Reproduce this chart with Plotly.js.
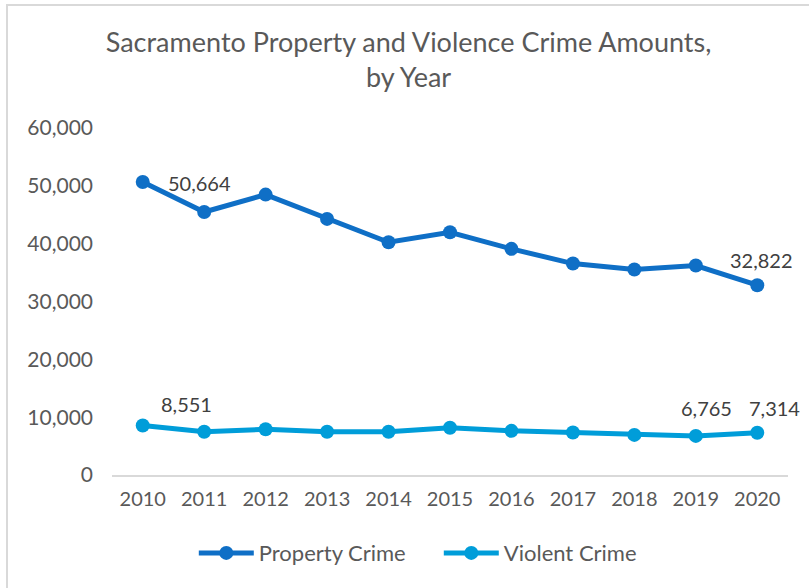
<!DOCTYPE html>
<html>
<head>
<meta charset="utf-8">
<script src="https://cdn.plot.ly/plotly-3.0.1.min.js"></script>
<style>
  html, body { margin: 0; padding: 0; overflow: hidden; background: #fff; }
  #chart { width: 809px; height: 588px; position: absolute; left: 0; top: 0; }
  #frame { position: absolute; left: 6px; top: 4px; width: 830px; height: 620px;
           border: 2px solid #d9d9d9; pointer-events: none; box-sizing: border-box; }
</style>
</head>
<body>
<div id="chart"></div>
<div id="frame"></div>
<script>
const years = ["2010","2011","2012","2013","2014","2015","2016","2017","2018","2019","2020"];
const propertyCrime = [50664, 45480, 48480, 44280, 40250, 41970, 39100, 36560, 35530, 36220, 32822];
const violentCrime = [8551, 7470, 7900, 7470, 7470, 8170, 7630, 7360, 6930, 6765, 7314];
// indices of the points that carry a data label
const propertyLabelIdx = [0, 10];
const violentLabelIdx = [0, 9, 10];

const FONT = "Lato, 'Open Sans', sans-serif";
const labelFont = {family: FONT, size: 20, color: "#404040"};

// label offsets in pixels (placement only)
const propertyLabelShift = {0: [57, -1], 10: [4, 25]};
const violentLabelShift = {0: [44, 22], 9: [11, 28], 10: [17, 25]};

const traces = [
  {
    x: years, y: propertyCrime, name: "Property Crime", type: "scatter",
    mode: "lines+markers",
    line: {color: "#0F6FC6", width: 5},
    marker: {color: "#0F6FC6", size: 14},
    cliponaxis: false
  },
  {
    x: years, y: violentCrime, name: "Violent Crime", type: "scatter",
    mode: "lines+markers",
    line: {color: "#009DD9", width: 5},
    marker: {color: "#009DD9", size: 14},
    cliponaxis: false
  }
];

function fmt(v) {
  return String(v).replace(/\B(?=(\d{3})+(?!\d))/g, ",");
}

function makeLabels(values, idxs, shifts) {
  // category axis: the annotation x is the category's index position
  return idxs.map(i => ({
    x: i, y: values[i], xref: "x", yref: "y",
    text: fmt(values[i]),
    showarrow: false, xanchor: "center", yanchor: "middle",
    xshift: shifts[i][0], yshift: shifts[i][1],
    font: labelFont
  }));
}

const annotations = makeLabels(propertyCrime, propertyLabelIdx, propertyLabelShift)
  .concat(makeLabels(violentCrime, violentLabelIdx, violentLabelShift));

const layout = {
  width: 809, height: 588,
  margin: {l: 112, r: 21, t: 128, b: 113, autoexpand: false},
  paper_bgcolor: "#ffffff", plot_bgcolor: "#ffffff",
  font: {family: FONT, color: "#595959", size: 19},
  title: {
    text: "Sacramento Property and Violence Crime Amounts,<br>by Year",
    font: {family: FONT, size: 27, color: "#595959"},
    x: 0.505, xanchor: "center", y: 0.912, yanchor: "top"
  },
  xaxis: {
    type: "category", range: [-0.5, 10.5],
    showgrid: false, zeroline: false,
    showline: true, linecolor: "#d9d9d9", linewidth: 2,
    ticks: "", ticklabelstandoff: 5,
    tickfont: {family: FONT, size: 20, color: "#595959"},
    fixedrange: true
  },
  yaxis: {
    range: [0, 60000], dtick: 10000, tick0: 0, tickformat: ",",
    showgrid: false, zeroline: false, showline: false,
    ticks: "", ticklabelstandoff: 18,
    tickfont: {family: FONT, size: 21, color: "#595959"},
    fixedrange: true
  },
  annotations: annotations,
  showlegend: true,
  legend: {
    orientation: "h", x: 0.121, xanchor: "left", y: -0.225, yanchor: "middle",
    font: {family: FONT, size: 22, color: "#595959"},
    itemwidth: 55, entrywidth: 175, entrywidthmode: "pixels", traceorder: "normal"
  }
};

Plotly.newPlot("chart", traces, layout, {displayModeBar: false, staticPlot: true});
</script>
</body>
</html>
